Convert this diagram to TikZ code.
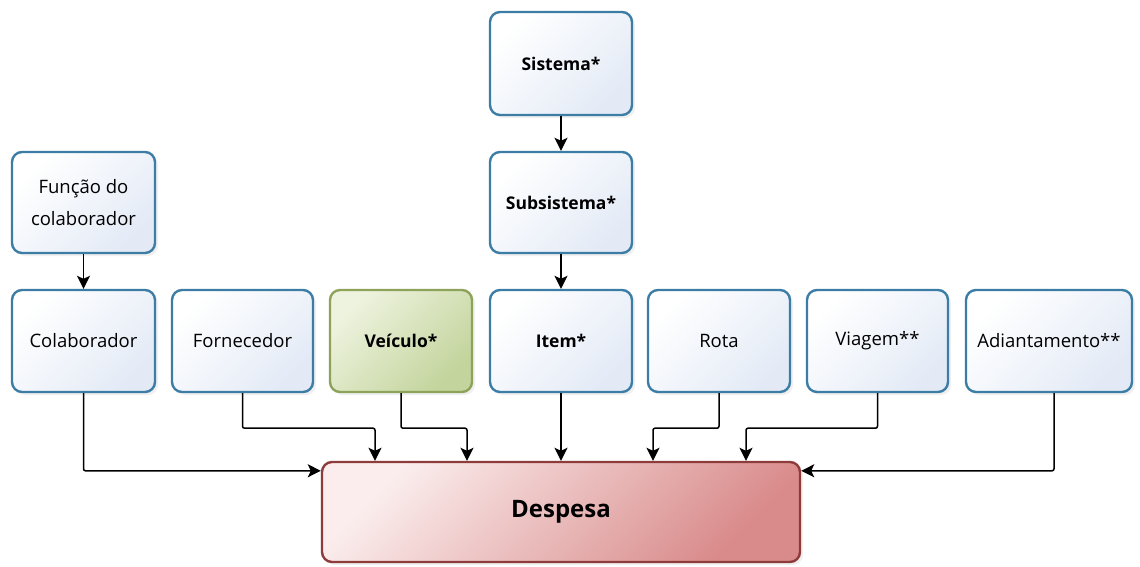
\documentclass[tikz,border=0pt]{standalone}
\usepackage{fontspec}
\setmainfont{Open Sans}
\usetikzlibrary{arrows.meta,shadows,calc}
\definecolor{bblue}{HTML}{3C7DA6}
\definecolor{bfill}{HTML}{E3EAF6}
\definecolor{ggreen}{HTML}{8DA35A}
\definecolor{gfillA}{HTML}{EEF3DF}
\definecolor{gfillB}{HTML}{C3D49C}
\definecolor{rred}{HTML}{8E3B3B}
\definecolor{rfillA}{HTML}{FBEDED}
\definecolor{rfillB}{HTML}{D98A8A}
\tikzset{
  base/.style={rectangle, rounded corners=10pt, line width=2.4pt, align=center,
    font=\fontsize{18.5}{32}\selectfont, inner sep=2pt,
    drop shadow={opacity=0.12, shadow xshift=3pt, shadow yshift=-3pt}},
  bluebox/.style={base, draw=bblue, top color=white, bottom color=bfill, shading angle=45},
  greenbox/.style={base, draw=ggreen, top color=gfillA, bottom color=gfillB, shading angle=45},
  redbox/.style={base, draw=rred, top color=rfillA, bottom color=rfillB, shading angle=45},
  bld/.style={font=\fontsize{17.5}{30}\selectfont\bfseries},
  arr/.style={-{Stealth[length=13pt,width=13pt,inset=3pt]}, line width=1.5pt, rounded corners=2pt},
}
\begin{document}
\begin{tikzpicture}[x=1pt,y=-1pt]
\useasboundingbox (0,0) rectangle (1140,567);
\node[bluebox,bld,minimum width=142pt,minimum height=103pt] (sis) at (561,63.5) {Sistema*};
\node[bluebox,bld,minimum width=142pt,minimum height=101pt] (sub) at (561,202.5) {Subsistema*};
\node[bluebox,minimum width=143pt,minimum height=101pt] (func) at (83.5,202.5) {Função do\\colaborador};
\node[bluebox,minimum width=143pt,minimum height=102pt] (col) at (83.5,341) {Colaborador};
\node[bluebox,minimum width=141pt,minimum height=102pt] (forn) at (242.5,341) {Fornecedor};
\node[greenbox,bld,minimum width=142pt,minimum height=102pt] (veic) at (401,341) {Veículo*};
\node[bluebox,bld,minimum width=142pt,minimum height=102pt] (item) at (561,341) {Item*};
\node[bluebox,minimum width=142pt,minimum height=102pt] (rota) at (719,341) {Rota};
\node[bluebox,minimum width=141pt,minimum height=102pt] (viag) at (877.5,341) {Viagem**};
\node[bluebox,minimum width=166pt,minimum height=102pt] (adi) at (1049,341) {Adiantamento**};
\node[redbox,font=\fontsize{24}{28}\selectfont\bfseries,minimum width=478pt,minimum height=100pt] (desp) at (561,512) {Despesa};

\draw[arr] (sis.south) -- (sub.north);
\draw[arr] (sub.south) -- (item.north);
\draw[arr] (func.south) -- (col.north);
\draw[arr] (item.south) -- (desp.north);
\draw[arr] (col.south) |- ([yshift=-10pt]desp.north west);
\draw[arr] ([xshift=5pt]adi.south) |- ([yshift=-10pt]desp.north east);
\draw[arr] (forn.south) -- ++(0,35) -| ([xshift=-186pt]desp.north);
\draw[arr] (veic.south) -- ++(0,35) -| ([xshift=-94pt]desp.north);
\draw[arr] (rota.south) -- ++(0,35) -| ([xshift=92pt]desp.north);
\draw[arr] (viag.south) -- ++(0,35) -| ([xshift=185pt]desp.north);
\end{tikzpicture}
\end{document}
